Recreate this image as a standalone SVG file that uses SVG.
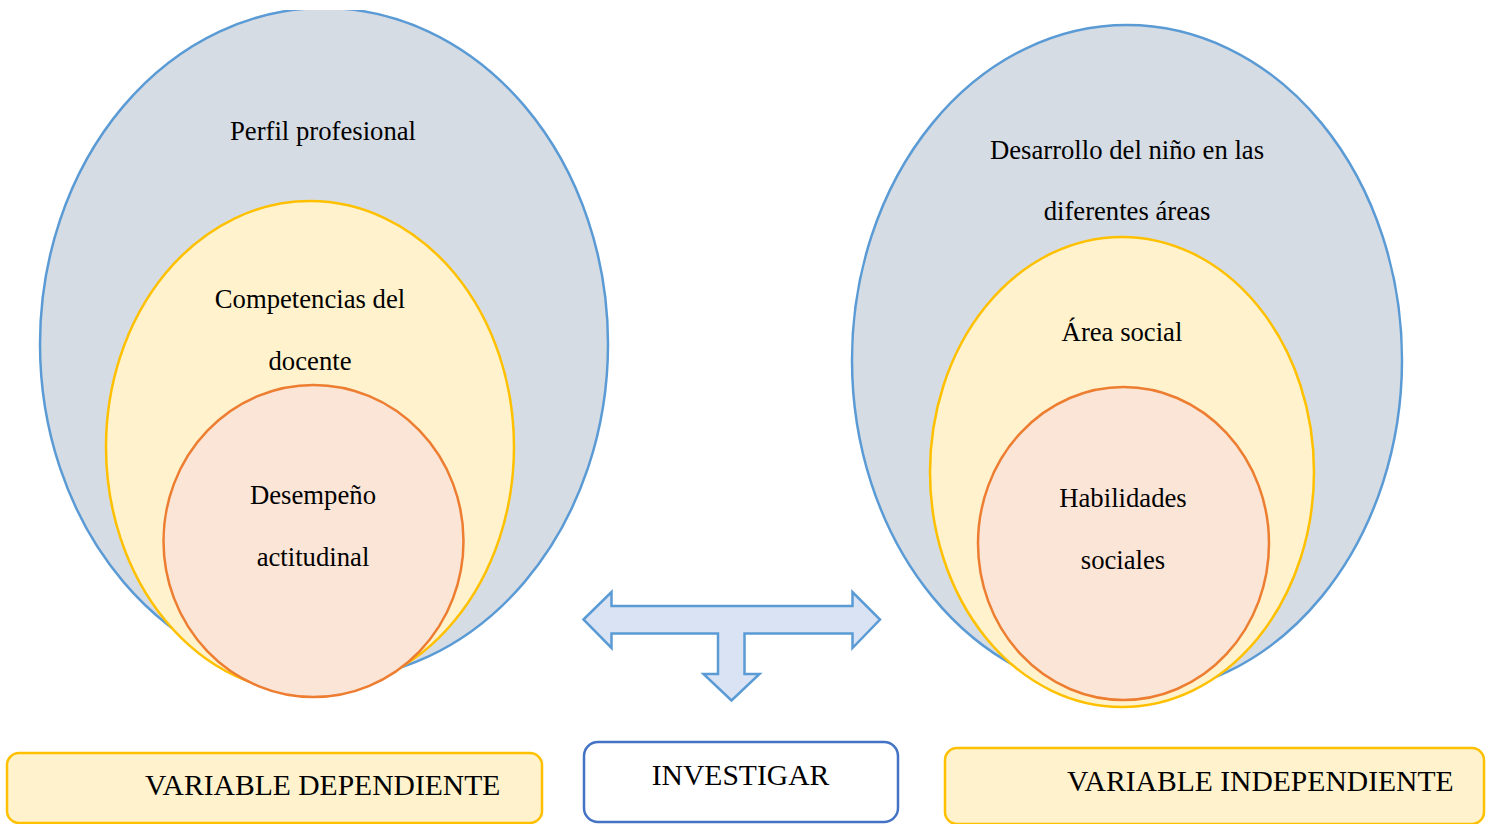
<svg xmlns="http://www.w3.org/2000/svg" width="1491" height="824" viewBox="0 0 1491 824">
<style>
.blue{fill:#D6DCE4;stroke:#5B9BD5;stroke-width:2.5}
.yel{fill:#FFF2CC;stroke:#FFC000;stroke-width:2.5}
.ora{fill:#FBE5D6;stroke:#ED7D31;stroke-width:2.5}
.t{font-family:"Liberation Serif","Times New Roman",serif;font-size:26.7px;fill:#000;text-anchor:middle}
.b{font-family:"Liberation Serif","Times New Roman",serif;font-size:29.6px;fill:#000}
</style>
<defs>
<clipPath id="topclip"><rect x="0" y="10" width="1491" height="814"/></clipPath>
</defs>
<rect width="1491" height="824" fill="#fff"/>
<g id="perfil" clip-path="url(#topclip)">
<ellipse class="blue" cx="324" cy="344" rx="284" ry="336"/>
<text class="t" x="323" y="140">Perfil profesional</text>
</g>
<g id="competencias">
<ellipse class="yel" cx="310" cy="447" rx="204" ry="246"/>
<text class="t" x="310" y="308">Competencias del</text>
<text class="t" x="310" y="370">docente</text>
</g>
<g id="desempeno">
<ellipse class="ora" cx="313.5" cy="541" rx="150" ry="156"/>
<text class="t" x="313" y="504">Desempeño</text>
<text class="t" x="313" y="566">actitudinal</text>
</g>
<g id="desarrollo">
<ellipse class="blue" cx="1127" cy="360" rx="275" ry="335"/>
<text class="t" x="1127" y="159">Desarrollo del niño en las</text>
<text class="t" x="1127" y="220">diferentes áreas</text>
</g>
<g id="area">
<ellipse class="yel" cx="1122" cy="472" rx="192" ry="235"/>
<text class="t" x="1122" y="341">Área social</text>
</g>
<g id="habilidades">
<ellipse class="ora" cx="1123.5" cy="543.5" rx="145.5" ry="156.5"/>
<text class="t" x="1123" y="507">Habilidades</text>
<text class="t" x="1123" y="569">sociales</text>
</g>
<g id="connectors">
<path d="M583.5,619.5 L611.5,592 L611.5,606 L852.5,606 L852.5,592 L880,619.5 L852.5,648 L852.5,633.5 L744.5,633.5 L744.5,674 L759.5,674 L731.5,700.5 L703.5,674 L718,674 L718,633.5 L611.5,633.5 L611.5,648 Z" fill="#DAE3F3" stroke="#5B9BD5" stroke-width="2.5" stroke-linejoin="miter"/>
</g>
<g id="var-dep">
<rect x="7" y="753" width="535" height="70" rx="12" fill="#FFF2CC" stroke="#FFC000" stroke-width="2.5"/>
<text class="b" x="145" y="795">VARIABLE DEPENDIENTE</text>
</g>
<g id="investigar">
<rect x="584" y="742" width="314" height="80" rx="14" fill="#fff" stroke="#4472C4" stroke-width="2.5"/>
<text class="b" x="740.5" y="785" text-anchor="middle">INVESTIGAR</text>
</g>
<g id="var-indep">
<rect x="945" y="748" width="539" height="76" rx="12" fill="#FFF2CC" stroke="#FFC000" stroke-width="2.5"/>
<text class="b" x="1067" y="791">VARIABLE INDEPENDIENTE</text>
</g>
</svg>
